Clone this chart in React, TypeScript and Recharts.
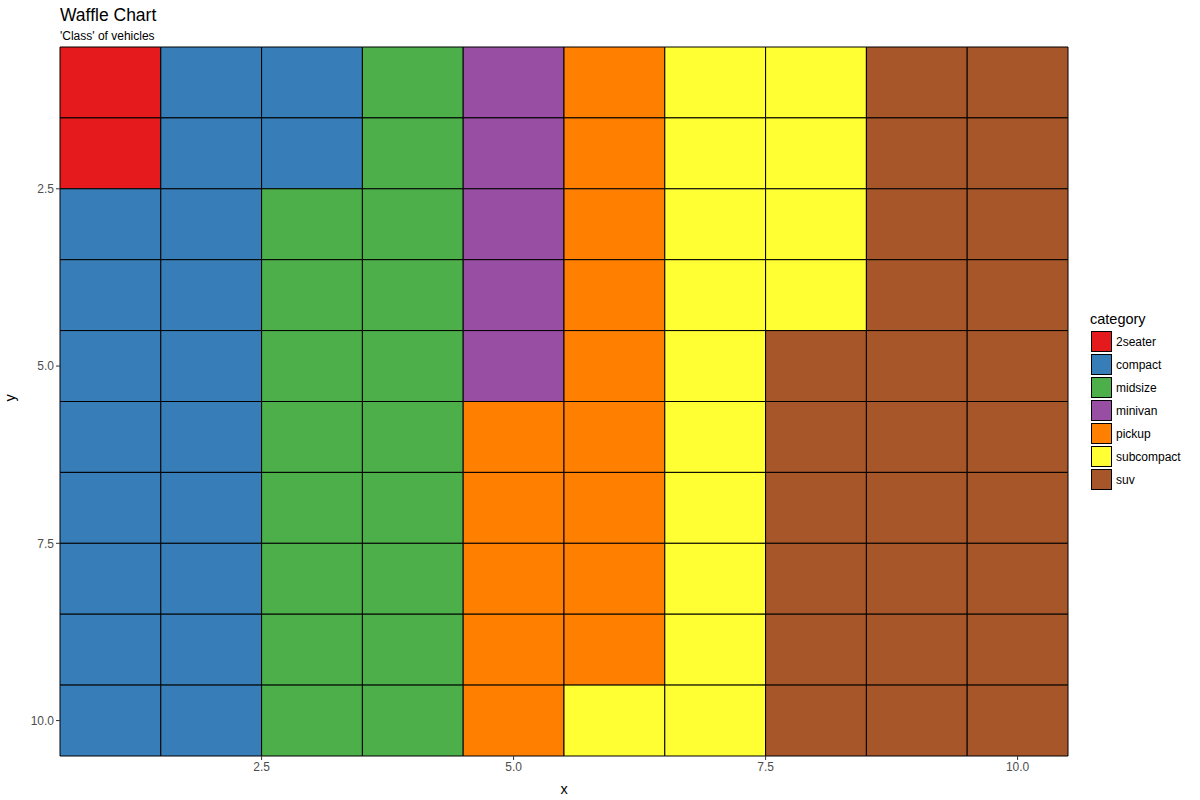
import { ReferenceArea, Scatter, ScatterChart, XAxis, YAxis } from 'recharts'

const categories = ['2seater', 'compact', 'midsize', 'minivan', 'pickup', 'subcompact', 'suv']
// percent of vehicles per class (one tile each), filled column by column
const counts = [2, 20, 18, 5, 14, 15, 26]
const colors = ['#E41A1C', '#377EB8', '#4DAF4A', '#984EA3', '#FF7F00', '#FFFF33', '#A65628']
const xTicks = [2.5, 5, 7.5, 10]
const yTicks = [2.5, 5, 7.5, 10]
const gridSize = 10

type Cell = { x: number; y: number; category: string; color: string }

const cells: Cell[] = []
categories.forEach((category, i) => {
  for (let k = 0; k < counts[i]; k++) {
    const n = cells.length
    cells.push({ x: Math.floor(n / gridSize) + 1, y: (n % gridSize) + 1, category, color: colors[i] })
  }
})

const font = '"Liberation Sans", Arial, sans-serif'
const tickStyle = { fill: '#4D4D4D', fontSize: 12, fontFamily: font }

function CategoryLegend() {
  return (
    <div style={{ position: 'absolute', left: 1091, top: 311, fontFamily: font, color: '#000' }}>
      <div style={{ fontSize: 14.5, marginBottom: 3, marginLeft: -1 }}>category</div>
      {categories.map((c, i) => (
        <div key={c} style={{ display: 'flex', alignItems: 'center', height: 23 }}>
          <div
            style={{
              width: 19,
              height: 19,
              background: colors[i],
              border: '1px solid #000',
              marginRight: 4,
            }}
          />
          <span style={{ fontSize: 12 }}>{c}</span>
        </div>
      ))}
    </div>
  )
}

export default function App() {
  return (
    <div style={{ position: 'absolute', left: 0, top: 0, width: 1200, height: 800, background: '#fff', fontFamily: font }}>
      <div style={{ position: 'absolute', left: 60, top: 5, fontSize: 17.5, color: '#000' }}>Waffle Chart</div>
      <div style={{ position: 'absolute', left: 60, top: 29, fontSize: 12, color: '#000' }}>'Class' of vehicles</div>
      <ScatterChart width={1200} height={800} margin={{ top: 47, right: 132, left: 0, bottom: 0 }}>
        <XAxis
          type="number"
          dataKey="x"
          domain={[0.5, 10.5]}
          allowDataOverflow
          ticks={xTicks}
          tickFormatter={(v: number) => v.toFixed(1)}
          tick={tickStyle}
          axisLine={false}
          tickLine={{ stroke: '#333' }}
          tickSize={4}
          height={44}
          label={{ value: 'x', position: 'insideBottom', offset: 6, fill: '#000', fontSize: 14.5, fontFamily: font }}
        />
        <YAxis
          type="number"
          dataKey="y"
          reversed
          domain={[0.5, 10.5]}
          allowDataOverflow
          ticks={yTicks}
          tickFormatter={(v: number) => v.toFixed(1)}
          tick={tickStyle}
          axisLine={false}
          tickLine={{ stroke: '#333' }}
          tickSize={4}
          width={60}
          label={{ value: 'y', angle: -90, position: 'insideLeft', offset: 10, fill: '#000', fontSize: 14.5, fontFamily: font }}
        />
        {cells.map((c) => (
          <ReferenceArea
            key={`${c.x}-${c.y}`}
            x1={c.x - 0.5}
            x2={c.x + 0.5}
            y1={c.y - 0.5}
            y2={c.y + 0.5}
            fill={c.color}
            fillOpacity={1}
            stroke="#000"
            strokeWidth={1}
            ifOverflow="visible"
          />
        ))}
        <Scatter data={cells} isAnimationActive={false} shape={() => <g />} />
      </ScatterChart>
      <CategoryLegend />
    </div>
  )
}
